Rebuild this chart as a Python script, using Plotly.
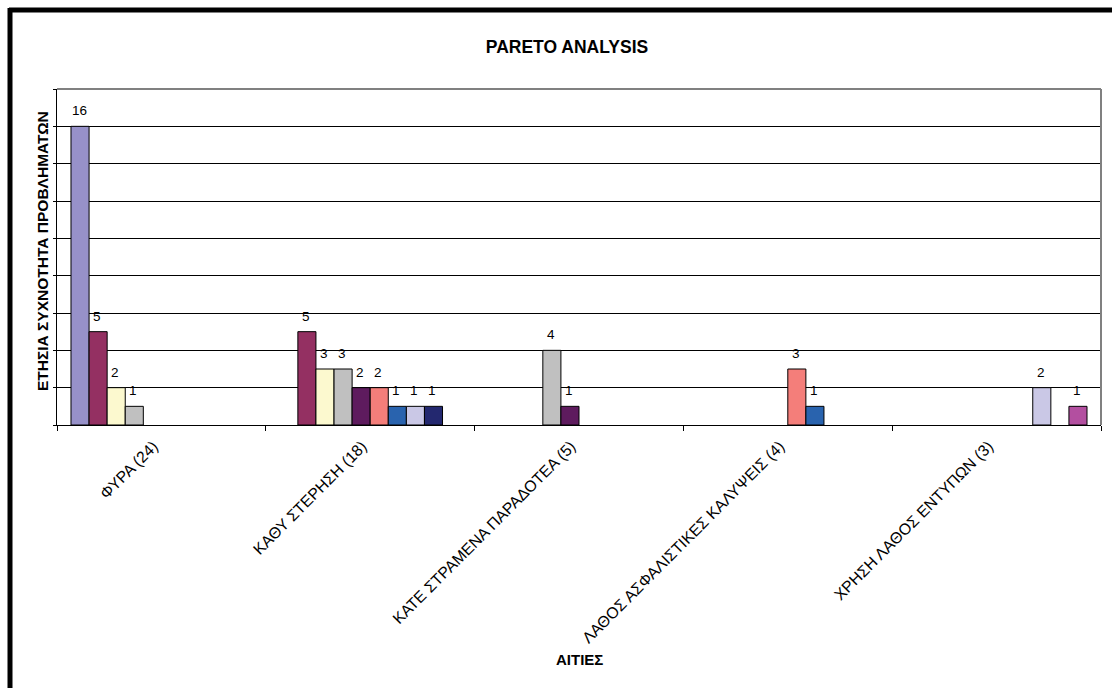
import plotly.graph_objects as go

# Causes (x categories) with their total counts in the label
categories = [
    "ΦΥΡΑ (24)",
    "ΚΑΘΥ ΣΤΕΡΗΣΗ (18)",
    "ΚΑΤΕ ΣΤΡΑΜΕΝΑ ΠΑΡΑΔΟΤΕΑ (5)",
    "ΛΑΘΟΣ ΑΣΦΑΛΙΣΤΙΚΕΣ ΚΑΛΥΨΕΙΣ (4)",
    "ΧΡΗΣΗ ΛΑΘΟΣ ΕΝΤΥΠΩΝ (3)",
]

# Annual frequency per sub-cause series (None = no bar in that category)
series_1 = [16, None, None, None, None]
series_2 = [5, 5, None, None, None]
series_3 = [2, 3, None, None, None]
series_4 = [1, 3, 4, None, None]
series_5 = [None, 2, 1, None, None]
series_6 = [None, 2, None, 3, None]
series_7 = [None, 1, None, 1, None]
series_8 = [None, 1, None, None, 2]
series_9 = [None, 1, None, None, None]
series_10 = [None, None, None, None, 1]

series_values = [series_1, series_2, series_3, series_4, series_5,
                 series_6, series_7, series_8, series_9, series_10]
series_names = [f"Σειρά {i}" for i in range(1, 11)]
series_colors = ["#9791C9", "#943062", "#FCF9CF", "#C0C0C0", "#5E1B5E",
                 "#F47E7A", "#2963AE", "#CAC8E6", "#23286F", "#B34FA0"]

FONT = "Liberation Sans, Arial, sans-serif"

# plot area in pixels
ML, MR, MT, MB = 57, 11, 89, 263
PLOT_H = 688 - MT - MB
PLOT_W = 1112 - ML - MR
BARGAP = 0.134
n_series = len(series_values)
bar_px = PLOT_W / len(categories) * (1 - BARGAP) / n_series

fig = go.Figure()
value_labels = []
for i, (name, vals, col) in enumerate(zip(series_names, series_values, series_colors)):
    fig.add_trace(go.Bar(
        x=categories,
        y=vals,
        name=name,
        marker=dict(color=col, line=dict(color="#000000", width=1)),
        hoverinfo="x+y",
    ))
    # value label above each bar, shifted into this series' slot
    for cat, v in zip(categories, vals):
        if v is None:
            continue
        value_labels.append(dict(
            x=cat, y=v, xref="x", yref="y", text=str(v),
            showarrow=False, xanchor="center", yanchor="bottom",
            xshift=(i - (n_series - 1) / 2) * bar_px - 1, yshift=6,
            font=dict(family=FONT, size=13.5, color="#000000"),
        ))

fig.update_layout(
    width=1112,
    height=688,
    margin=dict(l=ML, r=MR, t=MT, b=MB),
    paper_bgcolor="#FFFFFF",
    plot_bgcolor="#FFFFFF",
    barmode="group",
    bargap=BARGAP,
    bargroupgap=0,
    showlegend=False,
    font=dict(family=FONT, size=13, color="#000000"),
    title=dict(
        text="<b>PARETO ANALYSIS</b>",
        font=dict(family=FONT, size=17.5, color="#000000"),
        x=567 / 1112, xref="container", xanchor="center",
        y=1 - 47 / 688, yref="container", yanchor="middle",
    ),
    xaxis=dict(
        type="category",
        tickson="boundaries",
        ticks="outside",
        ticklen=5,
        tickcolor="#000000",
        tickangle=-45,
        ticklabelstandoff=5,
        ticklabelshift=-8,
        tickfont=dict(family=FONT, size=15.8, color="#000000"),
        showline=True,
        linecolor="#000000",
        linewidth=1,
        showgrid=False,
        zeroline=False,
    ),
    yaxis=dict(
        range=[0, 18],
        dtick=2,
        showticklabels=False,
        ticks="outside",
        ticklen=3,
        tickcolor="#000000",
        showgrid=True,
        gridcolor="#000000",
        gridwidth=1,
        showline=True,
        linecolor="#000000",
        linewidth=1,
        zeroline=False,
    ),
    annotations=value_labels + [
        dict(text="<b>ΕΤΗΣΙΑ ΣΥΧΝΟΤΗΤΑ ΠΡΟΒΛΗΜΑΤΩΝ</b>", textangle=-90,
             xref="paper", yref="paper", x=-14 / PLOT_W, y=(425 - 251) / PLOT_H,
             xanchor="center", yanchor="middle", showarrow=False,
             font=dict(family=FONT, size=15.5, color="#000000")),
        dict(text="<b>ΑΙΤΙΕΣ</b>",
             xref="paper", yref="paper", x=0.5, y=-(659 - 425) / PLOT_H,
             xanchor="center", yanchor="middle", showarrow=False,
             font=dict(family=FONT, size=15, color="#000000")),
    ],
    shapes=[
        # gray plot-area border on top and right
        dict(type="line", xref="paper", yref="paper", x0=0, x1=1, y0=1, y1=1,
             line=dict(color="#808080", width=2), layer="above"),
        dict(type="line", xref="paper", yref="paper", x0=1, x1=1, y0=0, y1=1,
             line=dict(color="#808080", width=2), layer="above"),
        # heavy black chart frame (top and left edges)
        dict(type="line", xref="paper", yref="paper",
             x0=-48 / PLOT_W, x1=1.2, y0=1 + 79 / PLOT_H, y1=1 + 79 / PLOT_H,
             line=dict(color="#000000", width=5), layer="above"),
        dict(type="line", xref="paper", yref="paper",
             x0=-47 / PLOT_W, x1=-47 / PLOT_W, y0=-1.0, y1=1 + 81 / PLOT_H,
             line=dict(color="#000000", width=5), layer="above"),
    ],
)

fig.write_html("out.html")
